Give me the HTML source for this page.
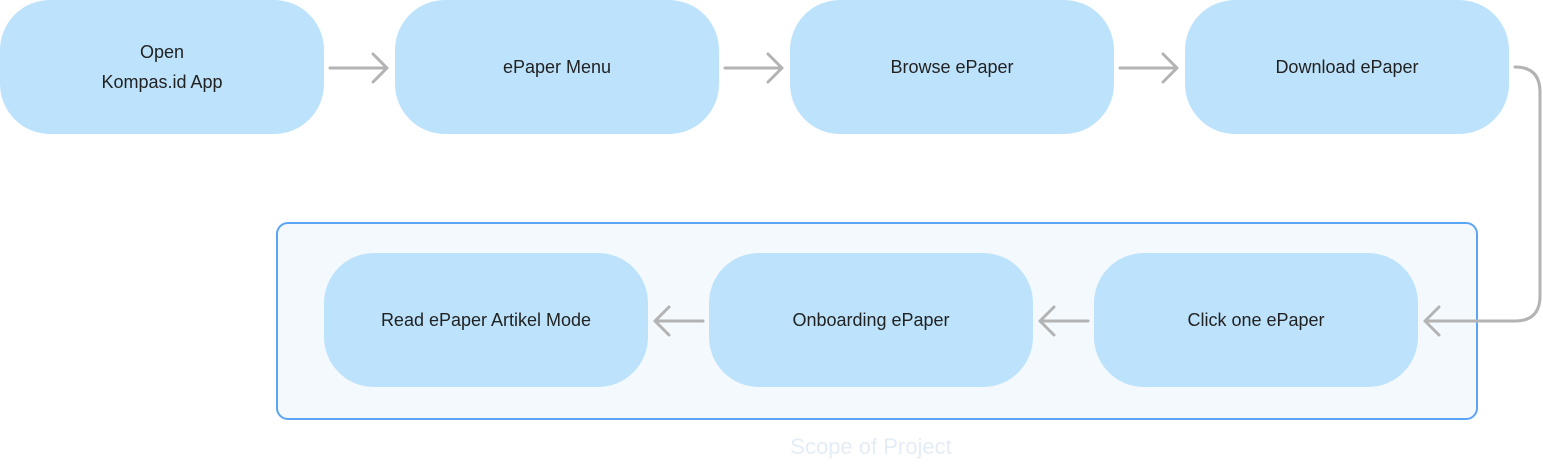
<!DOCTYPE html>
<html><head><meta charset="utf-8"><style>
body{margin:0;width:1543px;height:464px;background:#fff;position:relative;overflow:hidden;font-family:"Liberation Sans",sans-serif;}
.n{position:absolute;width:324px;height:134px;background:#bde3fc;border-radius:50px;display:flex;align-items:center;justify-content:center;text-align:center;font-size:18px;color:#222;line-height:30px;}
.box{position:absolute;left:276px;top:222px;width:1198px;height:194px;border:2px solid #5aa5f5;border-radius:12px;background:#f4f9fd;}
.lbl{position:absolute;left:771px;width:200px;top:434px;text-align:center;font-size:22px;color:#e4edf6;}
</style></head><body>
<div class="box"></div>
<div class="n" style="left:0;top:0">Open<br>Kompas.id App</div>
<div class="n" style="left:395px;top:0">ePaper Menu</div>
<div class="n" style="left:790px;top:0">Browse ePaper</div>
<div class="n" style="left:1185px;top:0">Download ePaper</div>
<div class="n" style="left:324px;top:253px">Read ePaper Artikel Mode</div>
<div class="n" style="left:709px;top:253px">Onboarding ePaper</div>
<div class="n" style="left:1094px;top:253px">Click one ePaper</div>
<div class="lbl">Scope of Project</div>
<svg width="1543" height="464" style="position:absolute;left:0;top:0" fill="none" stroke="#b3b3b3" stroke-width="3" stroke-linecap="round" stroke-linejoin="round">
<path d="M330 68H387M373 54L387 68L373 82"/>
<path d="M725 68H782M768 54L782 68L768 82"/>
<path d="M1120 68H1177M1163 54L1177 68L1163 82"/>
<path d="M1515 67Q1540 67 1540 92V296Q1540 321 1515 321H1425M1439 307L1425 321L1439 335"/>
<path d="M1088 321H1040M1054 307L1040 321L1054 335"/>
<path d="M703 321H655M669 307L655 321L669 335"/>
</svg>
</body></html>
